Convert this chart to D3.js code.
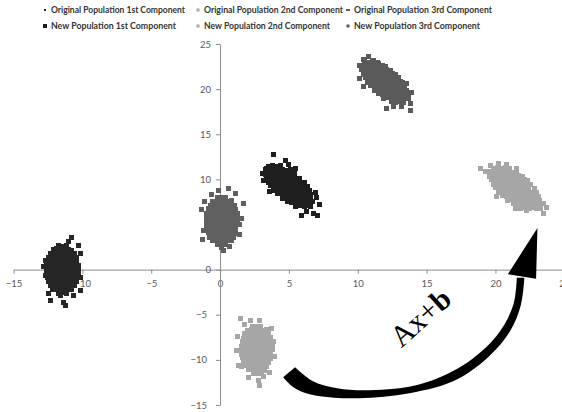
<!DOCTYPE html>
<html lang="en">
<head>
<meta charset="UTF-8">
<title>Ax+b</title>
<script src="https://d3js.org/d3.v7.min.js"></script>
<style>
  body { margin: 0; background: #fff; }
  svg { display: block; }
</style>
</head>
<body>
<svg></svg>
<script>
  // tick values of both axes
  const xTicks = [-15, -10, -5, 0, 5, 10, 15, 20, 25]
  const yTicks = [-15, -10, -5, 0, 5, 10, 15, 20, 25]

  const seriesNames = [
    'Original Population 1st Component',
    'Original Population 2nd Component',
    'Original Population 3rd Component',
    'New Population 1st Component',
    'New Population 2nd Component',
    'New Population 3rd Component'
  ]

  // points (x, y)
  const orig1 = [
    [-11.75,2.62],[-11.45,2.58],[-11.15,2.65],
    [-12.12,2.18],[-11.86,2.25],[-11.55,2.2],[-11.27,2.16],[-10.97,2.22],[-10.78,2.14],
    [-12.33,1.74],[-12.05,1.8],[-11.77,1.75],[-11.46,1.79],[-11.14,1.73],[-10.86,1.81],[-10.57,1.76],
    [-12.44,1.35],[-12.16,1.3],[-11.84,1.36],[-11.56,1.31],[-11.24,1.34],[-10.96,1.29],[-10.66,1.35],[-10.4,1.31],
    [-12.55,0.87],[-12.24,0.92],[-11.96,0.86],[-11.64,0.9],[-11.36,0.88],[-11.04,0.93],[-10.76,0.86],[-10.42,0.9],
    [-12.6,0.46],[-12.31,0.41],[-12.01,0.45],[-11.7,0.42],[-11.41,0.47],[-11.1,0.43],[-10.8,0.45],[-10.51,0.41],[-10.3,0.46],
    [-12.62,0.02],[-12.3,-0.03],[-12.0,0.01],[-11.71,-0.02],[-11.4,0.03],[-11.1,-0.01],[-10.79,0.02],[-10.5,-0.03],[-10.28,0.01],
    [-12.58,-0.42],[-12.29,-0.46],[-11.98,-0.41],[-11.69,-0.45],[-11.38,-0.43],[-11.08,-0.47],[-10.78,-0.42],[-10.49,-0.45],[-10.3,-0.41],
    [-12.54,-0.9],[-12.24,-0.86],[-11.94,-0.91],[-11.64,-0.88],[-11.34,-0.92],[-11.04,-0.87],[-10.74,-0.9],[-10.44,-0.88],
    [-12.45,-1.31],[-12.15,-1.36],[-11.85,-1.3],[-11.55,-1.34],[-11.25,-1.32],[-10.95,-1.35],[-10.65,-1.3],[-10.42,-1.34],
    [-12.33,-1.79],[-12.04,-1.74],[-11.75,-1.8],[-11.45,-1.76],[-11.15,-1.78],[-10.86,-1.73],[-10.58,-1.79],
    [-12.14,-2.22],[-11.85,-2.17],[-11.55,-2.23],[-11.25,-2.19],[-10.96,-2.21],[-10.76,-2.16],
    [-11.76,-2.63],[-11.46,-2.58],[-11.16,-2.62],
    [-10.78,3.57],[-10.29,2.64],[-12.71,1.05],[-10.17,1.83],[-12.3,-3.38],[-11.38,-3.68],[-11.2,-4.0],[-10.65,-2.9],
    [-10.17,-2.27],[-12.7,-0.6],[-11.6,-2.83],[-11.0,3.08],[-11.86,2.38],[-12.45,-2.6],[-10.1,-0.9],[-12.85,0.3]
  ]

  const orig2 = [
    [2.35,-6.28],[2.65,-6.33],[2.95,-6.27],
    [1.97,-6.72],[2.27,-6.67],[2.57,-6.73],[2.87,-6.68],[3.17,-6.71],[3.36,-6.66],
    [1.8,-7.11],[2.1,-7.16],[2.4,-7.1],[2.7,-7.14],[3.0,-7.12],[3.3,-7.17],[3.52,-7.11],
    [1.68,-7.59],[1.98,-7.54],[2.28,-7.58],[2.58,-7.55],[2.88,-7.6],[3.18,-7.56],[3.48,-7.59],[3.7,-7.54],
    [1.6,-7.99],[1.9,-8.04],[2.2,-7.98],[2.5,-8.02],[2.8,-8.0],[3.1,-8.05],[3.4,-7.99],[3.7,-8.03],
    [1.56,-8.48],[1.86,-8.43],[2.16,-8.47],[2.46,-8.44],[2.76,-8.49],[3.06,-8.45],[3.36,-8.48],[3.66,-8.43],[3.8,-8.47],
    [1.54,-8.88],[1.84,-8.93],[2.14,-8.87],[2.44,-8.91],[2.74,-8.89],[3.04,-8.94],[3.34,-8.88],[3.64,-8.92],[3.8,-8.87],
    [1.56,-9.36],[1.86,-9.31],[2.16,-9.35],[2.46,-9.32],[2.76,-9.37],[3.06,-9.33],[3.36,-9.36],[3.66,-9.31],
    [1.62,-9.77],[1.92,-9.82],[2.22,-9.76],[2.52,-9.8],[2.82,-9.78],[3.12,-9.83],[3.42,-9.77],[3.68,-9.81],
    [1.72,-10.25],[2.02,-10.2],[2.32,-10.24],[2.62,-10.21],[2.92,-10.26],[3.22,-10.22],[3.5,-10.25],
    [1.88,-10.65],[2.18,-10.7],[2.48,-10.64],[2.78,-10.68],[3.08,-10.66],[3.36,-10.71],
    [2.08,-11.12],[2.38,-11.07],[2.68,-11.11],[2.98,-11.08],[3.22,-11.13],
    [2.4,-11.48],[2.7,-11.53],[2.98,-11.47],
    [1.45,-5.41],[2.18,-5.6],[2.9,-5.6],[3.75,-6.52],[1.21,-8.92],[1.33,-10.59],[1.58,-10.78],[3.14,-11.88],
    [2.78,-12.25],[2.9,-12.8],[3.87,-8.0],[1.3,-7.4],[3.95,-9.6],[2.1,-11.9],[3.6,-11.4],[1.75,-6.1]
  ]

  const orig3 = [
    [-0.2,8.02],[0.1,7.97],[0.4,8.04],
    [-0.52,7.58],[-0.22,7.63],[0.08,7.57],[0.38,7.62],[0.67,7.59],[0.86,7.64],
    [-0.72,7.15],[-0.41,7.2],[-0.11,7.14],[0.19,7.18],[0.49,7.16],[0.79,7.21],[1.02,7.15],
    [-0.86,6.75],[-0.56,6.7],[-0.26,6.76],[0.04,6.71],[0.34,6.74],[0.64,6.69],[0.94,6.75],[1.14,6.71],
    [-0.96,6.27],[-0.66,6.32],[-0.36,6.26],[-0.06,6.3],[0.24,6.28],[0.54,6.33],[0.84,6.27],[1.14,6.31],[1.3,6.26],
    [-1.0,5.86],[-0.7,5.81],[-0.4,5.85],[-0.1,5.82],[0.2,5.87],[0.5,5.83],[0.8,5.86],[1.1,5.81],[1.3,5.85],
    [-1.02,5.38],[-0.72,5.43],[-0.42,5.37],[-0.12,5.41],[0.18,5.39],[0.48,5.44],[0.78,5.38],[1.08,5.42],[1.3,5.37],
    [-0.99,4.98],[-0.69,4.93],[-0.39,4.97],[-0.09,4.94],[0.21,4.99],[0.51,4.95],[0.81,4.98],[1.11,4.93],[1.28,4.97],
    [-0.95,4.49],[-0.65,4.54],[-0.35,4.48],[-0.05,4.52],[0.25,4.5],[0.55,4.55],[0.85,4.49],[1.15,4.53],
    [-0.86,4.09],[-0.56,4.04],[-0.26,4.08],[0.04,4.05],[0.34,4.1],[0.64,4.06],[0.94,4.08],[1.12,4.04],
    [-0.72,3.61],[-0.42,3.66],[-0.12,3.6],[0.18,3.64],[0.48,3.62],[0.78,3.67],[1.0,3.61],
    [-0.52,3.22],[-0.22,3.17],[0.08,3.21],[0.38,3.18],[0.68,3.23],[0.86,3.19],
    [-0.18,2.78],[0.12,2.83],[0.42,2.77],
    [-1.38,6.67],[0.6,9.0],[-0.12,8.81],[1.58,5.67],[1.42,5.0],[-0.73,3.6],[0.12,2.5],[0.24,2.16],
    [-1.2,4.38],[1.09,8.45],[1.69,7.34],[-1.1,7.6],[-0.6,8.3],[1.4,3.9],[-1.25,3.3],[0.7,2.6]
  ]

  const new1 = [
    [3.5,11.46],[3.8,11.51],[4.1,11.45],[4.42,11.5],
    [3.3,11.05],[3.6,11.0],[3.9,11.06],[4.2,11.01],[4.5,11.04],[4.8,10.99],[5.1,11.05],
    [3.3,10.57],[3.6,10.62],[3.9,10.56],[4.2,10.6],[4.5,10.58],[4.8,10.63],[5.1,10.57],[5.4,10.61],
    [3.4,10.17],[3.7,10.12],[4.0,10.16],[4.3,10.13],[4.6,10.18],[4.9,10.14],[5.2,10.16],[5.5,10.11],[5.8,10.15],
    [3.5,9.68],[3.8,9.73],[4.1,9.67],[4.4,9.71],[4.7,9.69],[5.0,9.74],[5.3,9.68],[5.6,9.72],[5.9,9.7],[6.12,9.66],
    [3.7,9.28],[4.0,9.23],[4.3,9.27],[4.6,9.24],[4.9,9.29],[5.2,9.25],[5.5,9.28],[5.8,9.23],[6.1,9.27],[6.35,9.24],
    [3.9,8.8],[4.2,8.85],[4.5,8.79],[4.8,8.83],[5.1,8.81],[5.4,8.86],[5.7,8.8],[6.0,8.84],[6.3,8.82],[6.52,8.78],
    [4.2,8.39],[4.5,8.34],[4.8,8.38],[5.1,8.35],[5.4,8.4],[5.7,8.36],[6.0,8.39],[6.3,8.34],[6.6,8.37],
    [4.5,7.91],[4.8,7.96],[5.1,7.9],[5.4,7.94],[5.7,7.92],[6.0,7.97],[6.3,7.91],[6.6,7.95],
    [4.9,7.51],[5.2,7.46],[5.5,7.5],[5.8,7.47],[6.1,7.52],[6.4,7.48],[6.7,7.5],
    [5.5,7.03],[5.8,7.08],[6.1,7.02],[6.4,7.06],
    [3.87,12.77],[4.72,12.14],[5.45,11.22],[7.02,7.96],[7.21,7.23],[5.93,5.96],[6.78,6.23],[7.07,6.04],
    [3.15,9.9],[3.39,11.22],[6.54,6.96],[6.3,6.41],[3.05,10.6],[5.0,11.6],[6.9,8.6],[3.6,8.7]
  ]

  const new2 = [
    [19.85,11.24],[20.15,11.29],[20.45,11.23],[20.75,11.27],[21.0,11.25],
    [19.65,10.83],[19.95,10.78],[20.25,10.82],[20.55,10.79],[20.85,10.84],[21.15,10.8],[21.5,10.83],
    [19.6,10.35],[19.9,10.4],[20.2,10.34],[20.5,10.38],[20.8,10.36],[21.1,10.41],[21.4,10.35],[21.7,10.39],[22.0,10.37],
    [19.7,9.95],[20.0,9.9],[20.3,9.94],[20.6,9.91],[20.9,9.96],[21.2,9.92],[21.5,9.95],[21.8,9.9],[22.1,9.94],[22.3,9.91],
    [19.85,9.46],[20.15,9.51],[20.45,9.45],[20.75,9.49],[21.05,9.47],[21.35,9.52],[21.65,9.46],[21.95,9.5],[22.25,9.48],[22.55,9.45],
    [20.0,9.06],[20.3,9.01],[20.6,9.05],[20.9,9.02],[21.2,9.07],[21.5,9.03],[21.8,9.06],[22.1,9.01],[22.4,9.05],[22.8,9.02],
    [20.25,8.58],[20.55,8.63],[20.85,8.57],[21.15,8.61],[21.45,8.59],[21.75,8.64],[22.05,8.58],[22.35,8.62],[22.65,8.6],[22.95,8.57],
    [20.5,8.17],[20.8,8.12],[21.1,8.16],[21.4,8.13],[21.7,8.18],[22.0,8.14],[22.3,8.17],[22.6,8.12],[22.9,8.16],[23.1,8.13],
    [20.85,7.69],[21.15,7.74],[21.45,7.68],[21.75,7.72],[22.05,7.7],[22.35,7.75],[22.65,7.69],[22.95,7.73],[23.2,7.7],
    [21.3,7.29],[21.6,7.24],[21.9,7.28],[22.2,7.25],[22.5,7.3],[22.8,7.26],[23.15,7.28],
    [21.85,6.8],[22.15,6.85],[22.45,6.79],[22.75,6.83],[23.0,6.81],
    [18.88,11.22],[19.61,11.59],[20.22,11.77],[21.54,11.22],[23.48,7.34],[23.24,6.79],[23.48,6.23],[22.27,6.6],
    [21.42,6.79],[20.1,8.07],[23.0,8.07],[19.3,10.9],[23.7,6.9],[20.8,11.7]
  ]

  const new3 = [
    [10.5,23.02],[10.8,22.97],[11.1,23.03],[11.4,22.98],
    [10.3,22.54],[10.6,22.59],[10.9,22.53],[11.2,22.57],[11.5,22.55],[11.8,22.6],[12.05,22.54],
    [10.3,22.14],[10.6,22.09],[10.9,22.13],[11.2,22.1],[11.5,22.15],[11.8,22.11],[12.1,22.14],[12.4,22.09],
    [10.4,21.65],[10.7,21.7],[11.0,21.64],[11.3,21.68],[11.6,21.66],[11.9,21.71],[12.2,21.65],[12.5,21.69],[12.75,21.67],
    [10.55,21.25],[10.85,21.2],[11.15,21.24],[11.45,21.21],[11.75,21.26],[12.05,21.22],[12.35,21.25],[12.65,21.2],[12.95,21.24],
    [10.7,20.77],[11.0,20.82],[11.3,20.76],[11.6,20.8],[11.9,20.78],[12.2,20.83],[12.5,20.77],[12.8,20.81],[13.1,20.79],[13.25,20.75],
    [10.95,20.37],[11.25,20.32],[11.55,20.36],[11.85,20.33],[12.15,20.38],[12.45,20.34],[12.75,20.37],[13.05,20.32],[13.4,20.36],
    [11.2,19.88],[11.5,19.93],[11.8,19.87],[12.1,19.91],[12.4,19.89],[12.7,19.94],[13.0,19.88],[13.3,19.92],[13.55,19.9],
    [11.5,19.48],[11.8,19.43],[12.1,19.47],[12.4,19.44],[12.7,19.49],[13.0,19.45],[13.3,19.48],[13.65,19.43],
    [11.9,19.0],[12.2,19.05],[12.5,18.99],[12.8,19.03],[13.1,19.01],[13.4,19.06],[13.65,19.0],
    [12.45,18.59],[12.75,18.54],[13.05,18.58],[13.35,18.55],
    [10.41,23.23],[11.14,23.15],[10.15,22.67],[10.1,21.2],[10.41,20.27],[12.1,17.87],[13.8,18.43],[13.8,17.68],
    [13.2,18.05],[11.49,22.86],[13.55,20.64],[13.9,19.6],[10.8,23.6],[12.6,18.1]
  ]

  // annotation arrow, outer and inner edge, in data units
  const arrowOuter = [[4.58,-11.92],[5.23,-12.92],[6.03,-13.58],[7.26,-14.02],[9.66,-14.25],[13.29,-13.8],
    [16.92,-12.36],[19.39,-9.81],[21.06,-6.82],[21.85,-3.9],[22.1,-0.9]]
  const arrowInner = [[5.45,-10.81],[6.75,-12.36],[8.5,-13.14],[10.89,-13.36],[14.52,-12.69],[17.65,-10.59],
    [20.12,-7.26],[21.3,-3.9],[21.55,-0.9]]
  const arrowHead = [[20.9,-0.5],[23.05,4.6],[22.95,-1.0]]

  const chart = {
    width: 562,
    height: 412,

    draw: function () {
      const svg = d3.select('svg')
        .attr('width', this.width)
        .attr('height', this.height)

      const x = d3.scaleLinear().domain([-15, 25]).range([13.5, 564.3])
      const y = d3.scaleLinear().domain([-15, 25]).range([405, 44])

      const series = [
        { name: seriesNames[0], pts: orig1, color: '#262626' },
        { name: seriesNames[1], pts: orig2, color: '#a6a6a6' },
        { name: seriesNames[2], pts: orig3, color: '#5f5f5f' },
        { name: seriesNames[3], pts: new1, color: '#1e1e1e' },
        { name: seriesNames[4], pts: new2, color: '#a6a6a6' },
        { name: seriesNames[5], pts: new3, color: '#5a5a5a' }
      ]
      const size = 5

      // axes cross at zero
      const xAxis = svg.append('g')
        .attr('transform', `translate(0,${y(0)})`)
        .call(d3.axisBottom(x).tickValues(xTicks).tickSize(4).tickSizeOuter(0).tickPadding(7))
      const yAxis = svg.append('g')
        .attr('transform', `translate(${x(0)},0)`)
        .call(d3.axisLeft(y).tickValues(yTicks).tickSize(4).tickSizeOuter(0).tickPadding(5))

      svg.selectAll('.domain, .tick line').attr('stroke', '#8c8c8c')
      svg.selectAll('.tick text')
        .attr('fill', '#595959')
        .style('font-family', 'Lato, "Open Sans", sans-serif')
        .style('font-size', '9.5px')
      yAxis.selectAll('.tick text').attr('dx', d => d < 0 ? -4 : 0)

      // the six point clouds
      series.forEach(s => {
        svg.append('g')
          .attr('fill', s.color)
          .attr('shape-rendering', 'crispEdges')
          .selectAll('rect')
          .data(s.pts)
          .join('rect')
          .attr('x', d => x(d[0]) - size / 2)
          .attr('y', d => y(d[1]) - size / 2)
          .attr('width', size)
          .attr('height', size)
      })

      // legend, two rows of three
      const legendCols = [45, 198, 348]
      const legendRows = [10, 26]
      const legendWidths = [134, 139, 138, 125, 126, 126]
      const marks = [[2, 2], [3, 3], [4, 2], [4, 4], [3, 3], [3, 3]]
      const legend = svg.append('g')
        .selectAll('g')
        .data(series)
        .join('g')
        .attr('transform', (d, i) => `translate(${legendCols[i % 3]},${legendRows[Math.floor(i / 3)]})`)
      legend.append('rect')
        .attr('x', (d, i) => -marks[i][0] / 2)
        .attr('y', (d, i) => -marks[i][1] / 2)
        .attr('width', (d, i) => marks[i][0])
        .attr('height', (d, i) => marks[i][1])
        .attr('fill', d => d.color)
      legend.append('text')
        .attr('x', 6)
        .attr('dy', '0.35em')
        .attr('textLength', (d, i) => legendWidths[i])
        .attr('lengthAdjust', 'spacingAndGlyphs')
        .attr('fill', '#333')
        .style('font-family', 'Lato, "Open Sans", sans-serif')
        .style('font-weight', 'bold')
        .style('font-size', '9.8px')
        .text(d => d.name)

      // curved arrow
      const edge = d3.line().x(d => x(d[0])).y(d => y(d[1])).curve(d3.curveCatmullRom)
      const outerPath = edge(arrowOuter)
      const innerPath = edge(arrowInner.slice().reverse())
      svg.append('path')
        .attr('d', outerPath + 'L' + innerPath.slice(1) + 'Z')
        .attr('fill', '#000')
      svg.append('path')
        .attr('d', d3.line().x(d => x(d[0])).y(d => y(d[1]))(arrowHead) + 'Z')
        .attr('fill', '#000')

      svg.append('text')
        .attr('transform', `translate(${x(13.15)},${y(-8.75)}) rotate(-42)`)
        .style('font-family', '"Liberation Serif", "DejaVu Serif", serif')
        .style('font-size', '30px')
        .attr('fill', '#000')
        .call(t => {
          t.append('tspan').text('Ax+')
          t.append('tspan').style('font-weight', 'bold').text('b')
        })
    }
  }

  chart.draw()
</script>
</body>
</html>
